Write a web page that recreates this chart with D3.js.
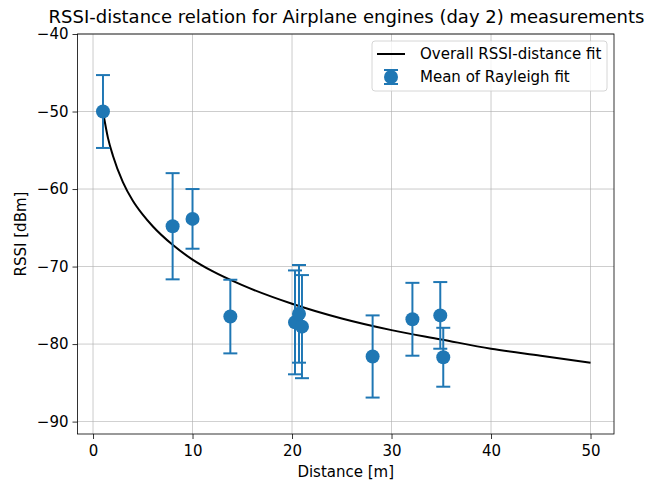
<!DOCTYPE html>
<html><head><meta charset="utf-8">
<script src="https://cdn.jsdelivr.net/npm/d3@7"></script>
<style>
body{margin:0;background:#fff;}
text{font-family:"DejaVu Sans",sans-serif;}
</style></head>
<body><div id="chart"></div>
<script>
// Mean of Rayleigh fit measurements
const distances = [1.0, 8.0, 10.0, 13.8, 20.3, 20.7, 21.0, 28.1, 32.1, 34.9, 35.2];
const rssiMeans = [-50.0, -64.8, -63.85, -76.45, -77.2, -76.1, -77.75, -81.6, -76.8, -76.3, -81.7];
const rssiErrors = [4.7, 6.85, 3.85, 4.75, 6.7, 6.3, 6.65, 5.3, 4.7, 4.3, 3.8];
// Overall RSSI-distance fit curve
const fitDistances = [1, 1.5, 2, 3, 4, 5, 6, 8, 10, 12, 15, 20, 25, 30, 35, 40, 45, 50];
const fitRssi = [-50.0, -53.4, -55.7, -59.1, -61.5, -63.3, -64.8, -67.2, -69.1, -70.6, -72.4, -74.8, -76.7, -78.2, -79.4, -80.6, -81.5, -82.4];
const xTicks = [0, 10, 20, 30, 40, 50];
const yTicks = [-90, -80, -70, -60, -50, -40];
const titleText = "RSSI-distance relation for Airplane engines (day 2) measurements";
const xLabel = "Distance [m]";
const yLabel = "RSSI [dBm]";
const legendLabels = ["Overall RSSI-distance fit", "Mean of Rayleigh fit"];

const W = 646, H = 486;
const L = 77.5, R = 614, T = 34, B = 434;
const blue = "#1f77b4";
const fs = 15;

const svg = d3.select("#chart").append("svg").attr("width", W).attr("height", H);
const x = d3.scaleLinear().domain([-1.56, 52.36]).range([L, R]);
const y = d3.scaleLinear().domain([-91.6, -40]).range([B, T]);

// grid
const g = svg.append("g");
g.selectAll(".gx").data(xTicks).join("line")
  .attr("x1", d => x(d)).attr("x2", d => x(d)).attr("y1", T).attr("y2", B)
  .attr("stroke", "#b0b0b0").attr("stroke-width", 0.8).attr("opacity", 0.8);
g.selectAll(".gy").data(yTicks).join("line")
  .attr("y1", d => y(d)).attr("y2", d => y(d)).attr("x1", L).attr("x2", R)
  .attr("stroke", "#b0b0b0").attr("stroke-width", 0.8).attr("opacity", 0.8);

// fit curve
const line = d3.line().x((d, i) => x(fitDistances[i])).y(d => y(d)).curve(d3.curveMonotoneX);
svg.append("path").datum(fitRssi).attr("d", line)
  .attr("fill", "none").attr("stroke", "#000").attr("stroke-width", 2);

// error bars
const pts = distances.map((d, i) => ({d, m: rssiMeans[i], e: rssiErrors[i]}));
const cap = 7;
const eb = svg.append("g").attr("stroke", blue).attr("stroke-width", 2);
pts.forEach(p => {
  const cx = x(p.d);
  eb.append("line").attr("x1", cx).attr("x2", cx).attr("y1", y(p.m + p.e)).attr("y2", y(p.m - p.e));
  eb.append("line").attr("x1", cx - cap).attr("x2", cx + cap).attr("y1", y(p.m + p.e)).attr("y2", y(p.m + p.e));
  eb.append("line").attr("x1", cx - cap).attr("x2", cx + cap).attr("y1", y(p.m - p.e)).attr("y2", y(p.m - p.e));
});
svg.append("g").selectAll("circle").data(pts).join("circle")
  .attr("cx", p => x(p.d)).attr("cy", p => y(p.m)).attr("r", 7).attr("fill", blue);

// axes
const fmt = d => d < 0 ? "\u2212" + Math.abs(d) : String(d);
const xa = svg.append("g").attr("transform", `translate(0,${B})`)
  .call(d3.axisBottom(x).tickValues(xTicks).tickSize(5).tickPadding(4).tickFormat(fmt));
const ya = svg.append("g").attr("transform", `translate(${L},0)`)
  .call(d3.axisLeft(y).tickValues(yTicks).tickSize(5).tickPadding(4).tickFormat(fmt));
[xa, ya].forEach(a => {
  a.select(".domain").remove();
  a.selectAll("text").attr("font-size", fs).attr("font-family", "DejaVu Sans").attr("fill", "#000");
  a.selectAll("line").attr("stroke", "#000").attr("stroke-width", 0.8);
});
xa.selectAll("text").attr("dy", "0.85em");
svg.append("rect").attr("x", L).attr("y", T).attr("width", R - L).attr("height", B - T)
  .attr("fill", "none").attr("stroke", "#000").attr("stroke-width", 0.8);

// labels
svg.append("text").attr("x", (L + R) / 2).attr("y", 477).attr("text-anchor", "middle")
  .attr("font-size", fs).text(xLabel);
svg.append("text").attr("transform", `translate(26,${(T + B) / 2}) rotate(-90)`)
  .attr("text-anchor", "middle").attr("font-size", fs).text(yLabel);
svg.append("text").attr("x", 346.5).attr("y", 22.5).attr("text-anchor", "middle")
  .attr("font-size", 18).text(titleText);

// legend
const lg = svg.append("g");
lg.append("rect").attr("x", 372).attr("y", 41).attr("width", 235).attr("height", 50).attr("rx", 3)
  .attr("fill", "#fff").attr("fill-opacity", 0.8).attr("stroke", "#cccccc").attr("stroke-width", 0.8);
lg.append("line").attr("x1", 377).attr("x2", 405).attr("y1", 54).attr("y2", 54)
  .attr("stroke", "#000").attr("stroke-width", 2);
const lx = 391, ly = 77;
lg.append("line").attr("x1", lx).attr("x2", lx).attr("y1", ly - 7).attr("y2", ly + 7).attr("stroke", blue).attr("stroke-width", 2);
lg.append("line").attr("x1", lx - 7).attr("x2", lx + 7).attr("y1", ly - 7).attr("y2", ly - 7).attr("stroke", blue).attr("stroke-width", 2);
lg.append("line").attr("x1", lx - 7).attr("x2", lx + 7).attr("y1", ly + 7).attr("y2", ly + 7).attr("stroke", blue).attr("stroke-width", 2);
lg.append("circle").attr("cx", lx).attr("cy", ly).attr("r", 7).attr("fill", blue);
lg.selectAll(".lt").data(legendLabels).join("text")
  .attr("x", 420).attr("y", (d, i) => 59 + i * 23).attr("font-size", fs).text(d => d);
</script></body></html>
